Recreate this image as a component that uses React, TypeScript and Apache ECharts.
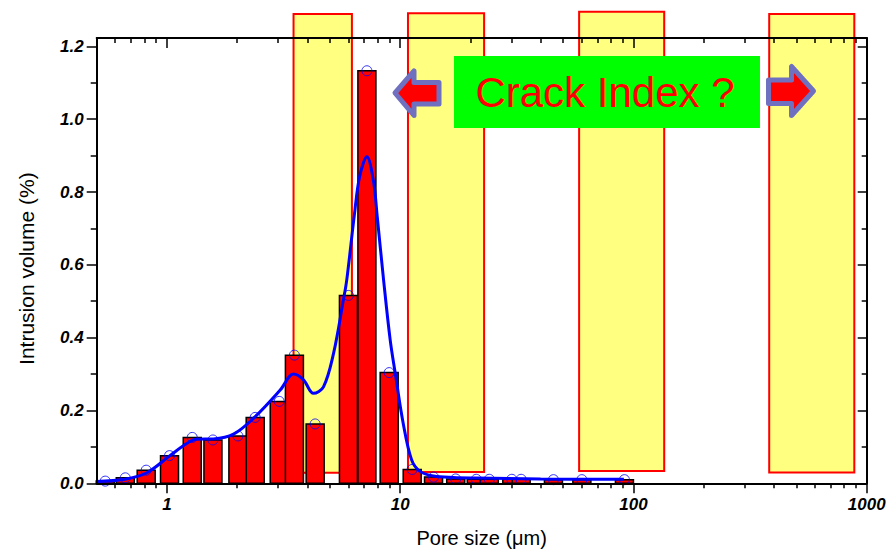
import React, { useEffect, useRef } from "react";
import * as echarts from "echarts";

// ---- data (pore size in µm, intrusion volume in %) ----
const barSizes = [0.544, 0.663, 0.815, 1.026, 1.284, 1.575, 2.015, 2.39, 3.03, 3.52, 4.32, 6.0, 7.2, 8.97, 11.26, 13.9, 17.3, 21.2, 24.1, 30.1, 33.0, 45.4, 60.1, 91.5];
const barValues = [0.006, 0.015, 0.036, 0.076, 0.126, 0.119, 0.13, 0.181, 0.225, 0.352, 0.163, 0.516, 1.133, 0.304, 0.038, 0.017, 0.012, 0.011, 0.011, 0.011, 0.011, 0.01, 0.01, 0.01];

const fitSizes = [0.5, 0.66, 0.82, 1.03, 1.22, 1.34, 1.58, 1.93, 2.39, 3.06, 3.49, 3.85, 4.25, 4.69, 5.18, 5.71, 5.9, 6.37, 6.69, 7.2, 7.68, 7.98, 8.49, 9.06, 9.52, 10.3, 11.2, 12.2, 13.9, 16.9, 21.3, 40, 91];
const fitValues = [0.005, 0.011, 0.029, 0.076, 0.11, 0.121, 0.122, 0.135, 0.183, 0.256, 0.3, 0.284, 0.247, 0.265, 0.357, 0.504, 0.558, 0.74, 0.84, 0.897, 0.83, 0.73, 0.558, 0.394, 0.303, 0.165, 0.064, 0.032, 0.02, 0.016, 0.0146, 0.012, 0.011];

const zoneStart = [3.49, 10.8, 58.5, 382];
const zoneEnd = [6.21, 22.9, 135.5, 885];
const zoneBottom = [0.029, 0.031, 0.034, 0.03];
const zoneTop = [1.289, 1.291, 1.295, 1.289];

const xMajorTicks = [1, 10, 100, 1000];
const xMinorTicks = [0.6, 0.7, 0.8, 0.9, 2, 3, 4, 5, 6, 7, 8, 9, 20, 30, 40, 50, 60, 70, 80, 90, 200, 300, 400, 500, 600, 700, 800, 900];
const yMajorTicks = [0, 0.2, 0.4, 0.6, 0.8, 1.0, 1.2];
const yMinorTicks = [0.1, 0.3, 0.5, 0.7, 0.9, 1.1];

const X_MIN = 0.5;
const X_MAX = 1000;
const Y_MAX = 1.223;

const xAxisName = "Pore size (μm)";
const yAxisName = "Intrusion volume (%)";
const annotationText = "Crack Index ?";

const FONT = "'Liberation Sans', Arial, Helvetica, sans-serif";
const lg = (v: number) => Math.log10(v);

export default function App() {
  const ref = useRef<HTMLDivElement>(null);

  useEffect(() => {
    if (!ref.current) return;
    const chart = echarts.init(ref.current, null, { renderer: "svg" });

    const lineStyle = { color: "#000", width: 2 };
    const tickStyle = { color: "#000", width: 1.5 };
    const baseX = {
      type: "value",
      min: lg(X_MIN),
      max: lg(X_MAX),
      splitLine: { show: false },
      z: 5,
    };
    const baseY = {
      type: "value",
      min: 0,
      max: Y_MAX,
      splitLine: { show: false },
      z: 5,
    };
    const labelStyle = {
      fontSize: 17,
      fontWeight: "bold",
      fontStyle: "italic",
      color: "#000",
      fontFamily: FONT,
    };

    const option: any = {
      animation: false,
      backgroundColor: "#fff",
      grid: { left: 96.7, right: 28.3, top: 38, bottom: 72.7 },
      xAxis: [
        {
          ...baseX,
          position: "bottom",
          axisLine: { show: true, onZero: false, lineStyle },
          axisTick: { show: true, inside: false, length: 10, customValues: xMajorTicks.map(lg), lineStyle: tickStyle },
          axisLabel: {
            ...labelStyle,
            margin: 13,
            customValues: xMajorTicks.map(lg),
            formatter: (v: number) => String(Math.round(Math.pow(10, v))),
          },
          name: xAxisName,
          nameLocation: "middle",
          nameGap: 45,
          nameTextStyle: { fontSize: 20, color: "#000", fontFamily: FONT },
        },
        {
          ...baseX,
          position: "bottom",
          axisLine: { show: false, onZero: false },
          axisTick: { show: true, inside: false, length: 5, customValues: xMinorTicks.map(lg), lineStyle: tickStyle },
          axisLabel: { show: false },
        },
        {
          ...baseX,
          position: "top",
          axisLine: { show: true, onZero: false, lineStyle },
          axisTick: { show: true, inside: true, length: 10, customValues: xMajorTicks.map(lg), lineStyle: tickStyle },
          axisLabel: { show: false },
        },
        {
          ...baseX,
          position: "top",
          axisLine: { show: false, onZero: false },
          axisTick: { show: true, inside: true, length: 5, customValues: xMinorTicks.map(lg), lineStyle: tickStyle },
          axisLabel: { show: false },
        },
      ],
      yAxis: [
        {
          ...baseY,
          position: "left",
          axisLine: { show: true, onZero: false, lineStyle },
          axisTick: { show: true, inside: false, length: 10, customValues: yMajorTicks, lineStyle: tickStyle },
          axisLabel: {
            ...labelStyle,
            margin: 13,
            customValues: yMajorTicks,
            formatter: (v: number) => v.toFixed(1),
          },
          name: yAxisName,
          nameLocation: "middle",
          nameRotate: 90,
          nameGap: 60,
          nameTextStyle: { fontSize: 21, color: "#000", fontFamily: FONT, padding: [0, 16, 0, 0] },
        },
        {
          ...baseY,
          position: "left",
          axisLine: { show: false, onZero: false },
          axisTick: { show: true, inside: false, length: 6, customValues: yMinorTicks, lineStyle: tickStyle },
          axisLabel: { show: false },
        },
        {
          ...baseY,
          position: "right",
          axisLine: { show: true, onZero: false, lineStyle },
          axisTick: { show: true, inside: true, length: 9, customValues: yMajorTicks, lineStyle: tickStyle },
          axisLabel: { show: false },
        },
        {
          ...baseY,
          position: "right",
          axisLine: { show: false, onZero: false },
          axisTick: { show: true, inside: true, length: 5, customValues: yMinorTicks, lineStyle: tickStyle },
          axisLabel: { show: false },
        },
      ],
      series: [
        {
          type: "custom",
          name: "zones",
          clip: false,
          z: 1,
          encode: { x: [0, 1], y: [2, 3] },
          data: zoneStart.map((s, i) => [lg(s), lg(zoneEnd[i]), zoneBottom[i], zoneTop[i]]),
          renderItem: (_p: any, api: any) => {
            const p0 = api.coord([api.value(0), api.value(2)]);
            const p1 = api.coord([api.value(1), api.value(3)]);
            return {
              type: "rect",
              shape: { x: p0[0], y: p1[1], width: p1[0] - p0[0], height: p0[1] - p1[1] },
              style: { fill: "#ffff80", stroke: "#ff0000", lineWidth: 2 },
            };
          },
        },
        {
          type: "custom",
          name: "bars",
          clip: false,
          z: 2,
          encode: { x: 0, y: 1 },
          data: barSizes.map((s, i) => [lg(s), barValues[i]]),
          renderItem: (_p: any, api: any) => {
            const top = api.coord([api.value(0), api.value(1)]);
            const base = api.coord([api.value(0), 0]);
            const w = 18;
            return {
              type: "rect",
              shape: { x: top[0] - w / 2, y: top[1], width: w, height: base[1] - top[1] },
              style: { fill: "#ff0000", stroke: "#000", lineWidth: 1.5 },
            };
          },
        },
        {
          type: "line",
          name: "fit",
          z: 3,
          smooth: 0.35,
          showSymbol: false,
          symbol: "none",
          lineStyle: { color: "#0000ff", width: 3 },
          data: fitSizes.map((s, i) => [lg(s), fitValues[i]]),
        },
        {
          type: "scatter",
          name: "points",
          z: 4,
          symbol: "circle",
          symbolSize: 10,
          itemStyle: { color: "rgba(0,0,0,0)", borderColor: "#0000ff", borderWidth: 1 },
          data: barSizes.map((s, i) => [lg(s), barValues[i]]),
        },
      ],
      graphic: [
        {
          type: "rect",
          z: 100,
          shape: { x: 454, y: 56, width: 306, height: 72 },
          style: { fill: "#00ff00" },
        },
        {
          type: "text",
          z: 101,
          x: 605,
          y: 92,
          style: {
            text: annotationText,
            fill: "#ff0000",
            fontSize: 42,
            fontFamily: FONT,
            align: "center",
            verticalAlign: "middle",
            textAlign: "center",
            textVerticalAlign: "middle",
          },
        },
        {
          type: "polygon",
          z: 101,
          shape: {
            points: [
              [395, 93], [414, 71], [414, 82.5], [439, 82.5], [439, 104], [414, 104], [414, 115.5],
            ],
          },
          style: { fill: "#ff0000", stroke: "#7070c0", lineWidth: 5, lineJoin: "round" },
        },
        {
          type: "polygon",
          z: 101,
          shape: {
            points: [
              [813.5, 91], [791.5, 66.5], [791.5, 80], [768.5, 80], [768.5, 103.5], [791.5, 103.5], [791.5, 115.5],
            ],
          },
          style: { fill: "#ff0000", stroke: "#7070c0", lineWidth: 5, lineJoin: "round" },
        },
      ],
    };

    chart.setOption(option);
    return () => chart.dispose();
  }, []);

  return (
    <div
      ref={ref}
      style={{ position: "absolute", left: 0, top: 0, width: 895, height: 556 }}
    />
  );
}
